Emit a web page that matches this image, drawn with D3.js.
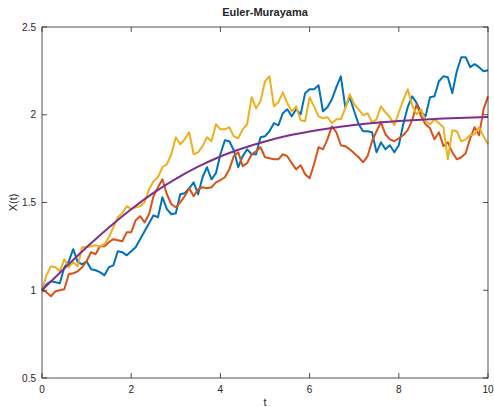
<!DOCTYPE html>
<html>
<head>
<meta charset="utf-8">
<script src="https://cdn.jsdelivr.net/npm/d3@7"></script>
<style>
  body { margin: 0; background: #fff; }
  svg text { font-family: "Liberation Sans", Arial, sans-serif; fill: #262626; }
</style>
</head>
<body>
<div id="chart"></div>
<script>
//  data (dt = 0.1, t from 0 to 10)
var dt = 0.1;
var blue = [1.000,1.034,1.051,1.046,1.040,1.131,1.165,1.234,1.160,1.148,
  1.165,1.120,1.114,1.103,1.085,1.131,1.142,1.222,1.217,1.199,
  1.222,1.245,1.291,1.336,1.382,1.427,1.416,1.530,1.462,1.433,
  1.439,1.547,1.553,1.581,1.615,1.547,1.644,1.701,1.632,1.667,
  1.775,1.855,1.849,1.798,1.701,1.764,1.803,1.775,1.775,1.872,
  1.877,1.906,1.952,1.940,2.009,2.031,1.991,2.031,2.003,2.123,
  2.145,2.145,2.168,2.020,2.043,2.088,2.157,2.219,2.043,2.100,
  2.020,1.946,1.906,1.906,1.900,1.786,1.843,1.803,1.826,1.786,
  1.826,1.946,2.043,2.105,2.066,2.014,1.991,2.100,2.105,2.191,
  2.219,2.214,2.123,2.248,2.328,2.328,2.271,2.288,2.271,2.248,
  2.254];
var orange = [1.000,0.989,0.966,0.994,1.000,1.006,1.091,1.097,1.108,1.131,
  1.165,1.217,1.205,1.251,1.251,1.274,1.291,1.285,1.279,1.330,
  1.330,1.399,1.422,1.387,1.433,1.536,1.587,1.632,1.547,1.490,
  1.473,1.501,1.536,1.581,1.536,1.575,1.587,1.581,1.587,1.615,
  1.627,1.644,1.689,1.764,1.786,1.707,1.724,1.775,1.792,1.815,
  1.758,1.752,1.746,1.746,1.775,1.764,1.724,1.689,1.712,1.661,
  1.638,1.718,1.815,1.803,1.860,1.934,1.900,1.826,1.821,1.803,
  1.781,1.758,1.729,1.764,1.849,1.906,1.957,1.889,1.860,1.849,
  1.866,1.883,1.912,1.969,2.060,1.991,1.946,1.923,1.860,1.900,
  1.821,1.843,1.786,1.746,1.758,1.781,1.866,1.929,1.883,2.031,
  2.105];
var yellow = [1.000,1.085,1.137,1.131,1.108,1.177,1.131,1.160,1.137,1.245,
  1.245,1.251,1.256,1.251,1.262,1.302,1.359,1.416,1.439,1.479,
  1.462,1.473,1.479,1.501,1.575,1.621,1.644,1.701,1.718,1.775,
  1.872,1.832,1.860,1.900,1.775,1.786,1.821,1.872,1.849,1.946,
  1.917,1.917,1.929,1.877,1.866,1.917,1.946,2.100,2.037,2.077,
  2.191,2.219,2.048,2.071,2.128,2.066,2.020,2.048,1.969,1.963,
  2.100,2.048,1.991,1.980,1.986,1.952,1.974,1.974,2.037,2.117,
  2.060,2.031,1.997,2.009,1.957,1.974,2.048,2.014,1.986,1.940,
  2.014,2.083,2.145,2.054,2.003,2.031,1.963,1.946,1.974,1.952,
  1.929,1.746,1.912,1.906,1.849,1.860,1.883,1.889,1.929,1.877,
  1.832];
//  smooth curve, read every 0.5
var exact_t = [0,0.5,1,1.5,2,2.5,3,3.5,4,4.5,5,5.5,6,6.5,7,7.5,8,8.5,9,9.5,10];
var exact = [1.000,1.124,1.245,1.358,1.462,1.555,1.635,1.704,1.762,1.809,1.848,
  1.880,1.905,1.925,1.941,1.954,1.964,1.972,1.978,1.983,1.987];

var x_ticks = [0,2,4,6,8,10];
var y_ticks = [0.5,1,1.5,2,2.5];

function draw() {
  const w = 494, h = 407;
  const margin = {top: 27, right: 6, bottom: 29, left: 42};

  const svg = d3.select("#chart").append("svg").attr("width", w).attr("height", h);

  const x = d3.scaleLinear().domain([0, 10]).range([margin.left, w - margin.right]);
  const y = d3.scaleLinear().domain([0.5, 2.5]).range([h - margin.bottom, margin.top]);

  const series = [
    {vals: blue, color: "#0072BD"},
    {vals: orange, color: "#D95319"},
    {vals: yellow, color: "#EDB120"}
  ];

  const line = d3.line().x(d => x(d[0])).y(d => y(d[1]));

  const plot = svg.append("g");
  series.forEach(s => {
    plot.append("path")
      .datum(s.vals.map((v, i) => [i * dt, v]))
      .attr("d", line)
      .attr("fill", "none")
      .attr("stroke", s.color)
      .attr("stroke-width", 2)
      .attr("stroke-linejoin", "round");
  });

  plot.append("path")
    .datum(exact.map((v, i) => [exact_t[i], v]))
    .attr("d", line.curve(d3.curveMonotoneX))
    .attr("fill", "none")
    .attr("stroke", "#7E2F8E")
    .attr("stroke-width", 2);

  // axes (ticks inward, box around)
  const tick = 5;
  const ax = svg.append("g").attr("stroke", "#262626").attr("stroke-width", 0.8).attr("fill", "none");
  ax.append("rect")
    .attr("x", x(0)).attr("y", y(2.5))
    .attr("width", x(10) - x(0)).attr("height", y(0.5) - y(2.5));

  x_ticks.forEach(t => {
    ax.append("line").attr("x1", x(t)).attr("x2", x(t)).attr("y1", y(0.5)).attr("y2", y(0.5) - tick);
    ax.append("line").attr("x1", x(t)).attr("x2", x(t)).attr("y1", y(2.5)).attr("y2", y(2.5) + tick);
  });
  y_ticks.forEach(t => {
    ax.append("line").attr("x1", x(0)).attr("x2", x(0) + tick).attr("y1", y(t)).attr("y2", y(t));
    ax.append("line").attr("x1", x(10)).attr("x2", x(10) - tick).attr("y1", y(t)).attr("y2", y(t));
  });

  svg.append("g").selectAll("text").data(x_ticks).enter()
    .append("text")
    .attr("x", d => x(d))
    .attr("y", y(0.5) + 15)
    .attr("text-anchor", "middle")
    .style("font-size", "10px")
    .text(d => d);

  svg.append("g").selectAll("text").data(y_ticks).enter()
    .append("text")
    .attr("x", x(0) - 6)
    .attr("y", d => y(d) + 3.5)
    .attr("text-anchor", "end")
    .style("font-size", "10px")
    .text(d => d);

  svg.append("text")
    .attr("x", (x(0) + x(10)) / 2)
    .attr("y", 16)
    .attr("text-anchor", "middle")
    .style("font-size", "11px")
    .style("font-weight", "bold")
    .text("Euler-Murayama");

  svg.append("text")
    .attr("x", (x(0) + x(10)) / 2)
    .attr("y", 406)
    .attr("text-anchor", "middle")
    .style("font-size", "11px")
    .text("t");

  svg.append("text")
    .attr("transform", `translate(17,${(y(0.5) + y(2.5)) / 2}) rotate(-90)`)
    .attr("text-anchor", "middle")
    .style("font-size", "11px")
    .text("X(t)");
}

draw();
</script>
</body>
</html>
